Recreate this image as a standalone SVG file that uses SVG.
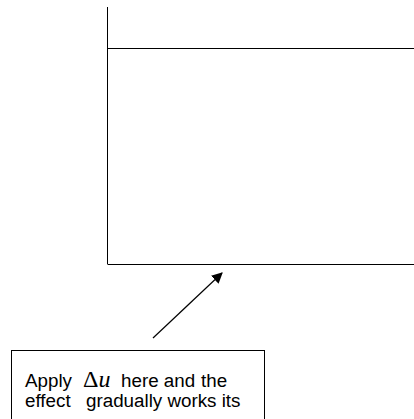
<svg xmlns="http://www.w3.org/2000/svg" width="414" height="419" viewBox="0 0 414 419">
<style>
.ln{stroke:#000;stroke-width:1;fill:none}
.t{font-family:"Liberation Sans",Arial,sans-serif;font-size:18.8px;fill:#000}
.m{font-family:"Liberation Serif","Times New Roman",serif;font-size:24px;fill:#000}
</style>
<defs>
<marker id="ah" viewBox="0 0 10 10" refX="9" refY="5" markerWidth="11" markerHeight="11" markerUnits="userSpaceOnUse" orient="auto">
<path d="M0,0 L10,5 L0,10 z" fill="#000"/>
</marker>
</defs>
<g id="region">
<line class="ln" x1="107.5" y1="7" x2="107.5" y2="264"/>
<line class="ln" x1="107.5" y1="48.5" x2="414" y2="48.5"/>
<line class="ln" x1="107.5" y1="264.5" x2="414" y2="264.5"/>
</g>
<g id="connectors">
<line class="ln" x1="153" y1="338" x2="222" y2="273" marker-end="url(#ah)" style="stroke-width:1.2"/>
</g>
<g id="note">
<rect class="ln" x="11.5" y="350.5" width="253" height="80" fill="#fff"/>
<text class="t" x="25" y="386.5">Apply</text>
<text class="m" x="83" y="386.5">Δ<tspan font-style="italic">u</tspan></text>
<text class="t" x="121" y="386.5">here and <tspan x="201">the</tspan></text>
<text class="t" x="25" y="406.5">effect <tspan x="86">gradually works its</tspan></text>
</g>
</svg>
